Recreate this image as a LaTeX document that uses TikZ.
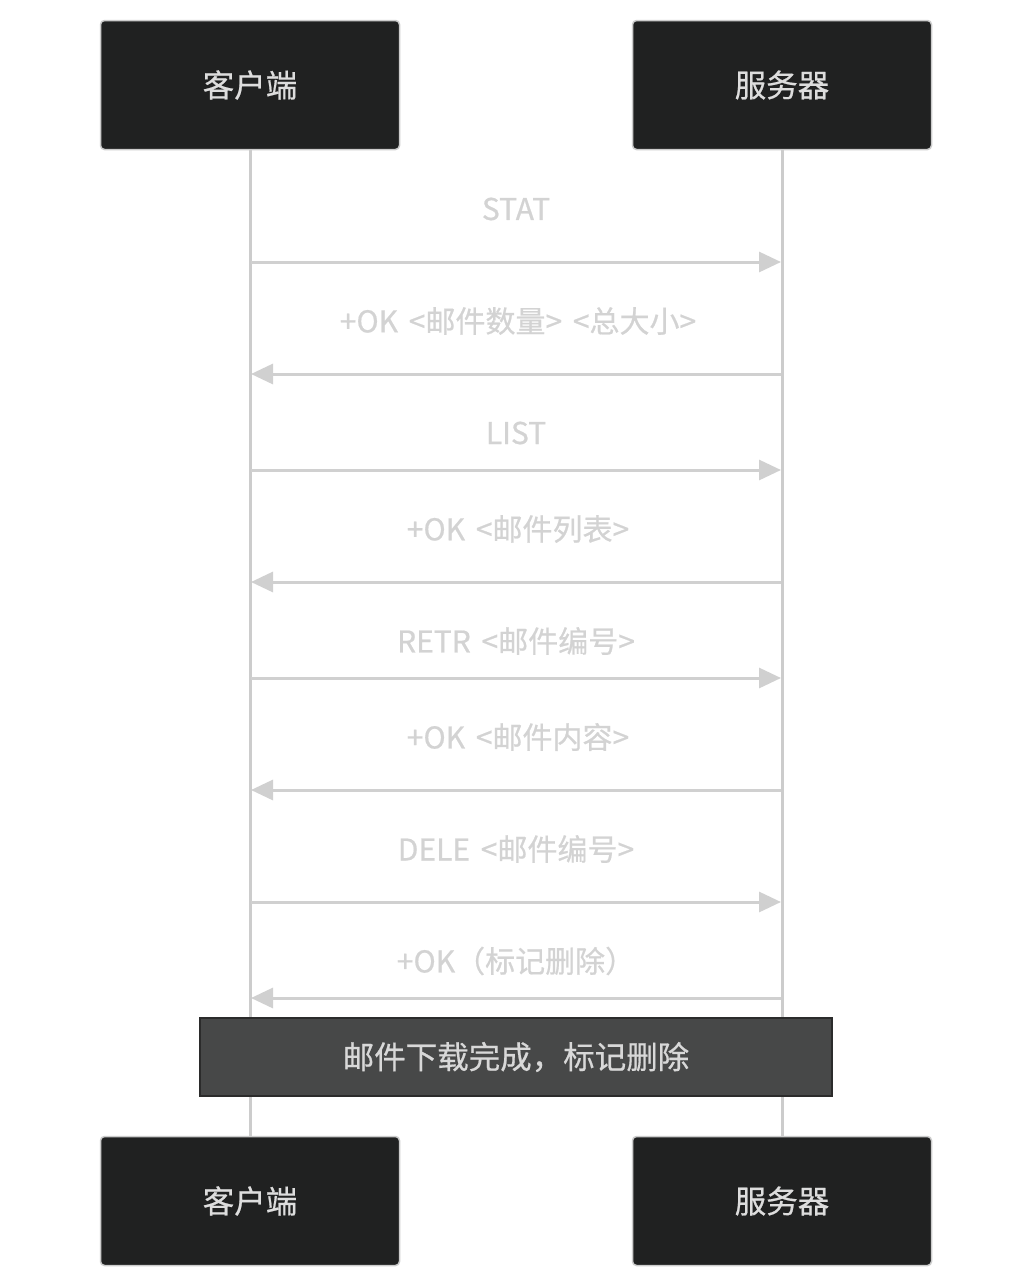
\documentclass[tikz,border=0pt]{standalone}
\usepackage{fontspec}
\setmainfont{Noto Sans CJK SC}
\newfontfamily\medfont[FakeBold=0.6,WordSpace=1.6]{Noto Sans CJK SC}
\usetikzlibrary{arrows.meta}
\definecolor{actfill}{HTML}{202121}
\definecolor{actdraw}{HTML}{CCCCCC}
\definecolor{acttext}{HTML}{DDDDDD}
\definecolor{linecol}{HTML}{D0D0D0}
\definecolor{msgtext}{HTML}{D3D3D3}
\definecolor{notefill}{HTML}{474848}
\definecolor{notedraw}{HTML}{2B2B2B}
\definecolor{notetext}{HTML}{D8D8D8}
\tikzset{
  actor/.style={draw=actdraw, line width=1.5pt, fill=actfill, rounded corners=4pt,
    minimum width=299pt, minimum height=129pt, inner sep=0pt, text=acttext,
    font=\medfont\fontsize{31.5pt}{36pt}\selectfont},
  lifeline/.style={draw=actdraw, line width=3pt},
  msg/.style={draw=linecol, line width=3pt, -{Triangle[length=22pt,width=20pt]}},
  msglabel/.style={text=msgtext, font=\medfont\fontsize{30pt}{34pt}\selectfont, inner sep=0pt},
  notebox/.style={draw=notedraw, line width=2pt, fill=notefill, minimum width=632pt,
    minimum height=78pt, inner sep=0pt, text=notetext, font=\medfont\fontsize{31.5pt}{36pt}\selectfont}
}
\begin{document}
\begin{tikzpicture}[x=1pt,y=-1pt]
\useasboundingbox[fill=white] (0,0) rectangle (1032,1288);
\node[actor] (c1) at (250,85) {客户端};
\node[actor] (s1) at (782,85) {服务器};
\node[actor] (c2) at (250,1201) {客户端};
\node[actor] (s2) at (782,1201) {服务器};
\draw[lifeline] (c1.south) -- (c2.north);
\draw[lifeline] (s1.south) -- (s2.north);
% message coordinates
\foreach \n/\y in {1/262,2/374,3/470,4/582,5/678,6/790,7/902,8/998}{
  \coordinate (cl\n) at (251,\y);
  \coordinate (sl\n) at (781,\y);
}
\draw[msg] (cl1) -- (sl1);
\draw[msg] (sl2) -- (cl2);
\draw[msg] (cl3) -- (sl3);
\draw[msg] (sl4) -- (cl4);
\draw[msg] (cl5) -- (sl5);
\draw[msg] (sl6) -- (cl6);
\draw[msg] (cl7) -- (sl7);
\draw[msg] (sl8) -- (cl8);
\node[msglabel] (m1) at (516,209) {STAT};
\node[msglabel] (m2) at (518,321) {+OK <邮件数量> <总大小>};
\node[msglabel] (m3) at (516,433) {LIST};
\node[msglabel] (m4) at (518,529) {+OK <邮件列表>};
\node[msglabel] (m5) at (516,641) {RETR <邮件编号>};
\node[msglabel] (m6) at (518,737) {+OK <邮件内容>};
\node[msglabel] (m7) at (516,849) {DELE <邮件编号>};
\node[msglabel] (m8) at (516,961) {+OK（标记删除）};
\node[notebox] (note) at (516,1057) {邮件下载完成，标记删除};
\end{tikzpicture}
\end{document}
